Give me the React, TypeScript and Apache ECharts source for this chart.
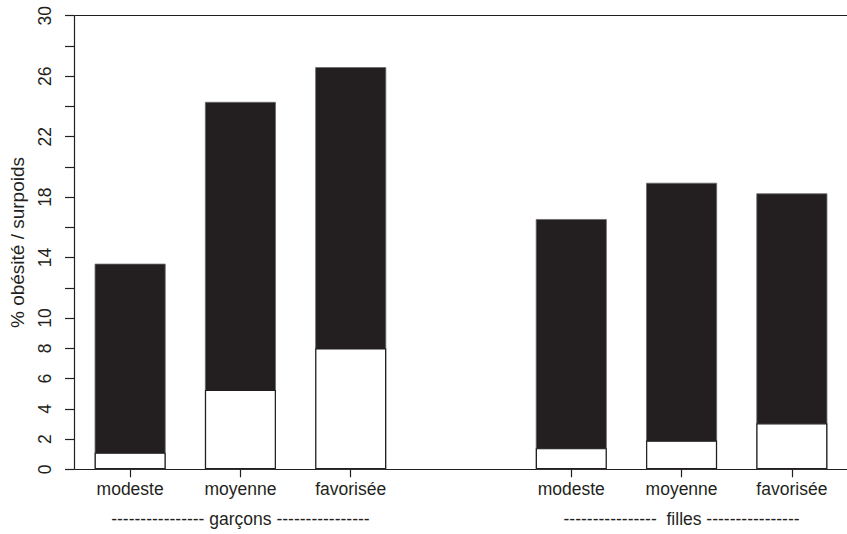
import React, { useEffect, useRef } from "react";
import * as echarts from "echarts";

const categories = ["modeste", "moyenne", "favorisée", "", "modeste", "moyenne", "favorisée"];
const groupLabels = ["", "---------------- garçons ----------------", "", "", "", "----------------  filles ----------------", ""];
// surpoids (obésité incluse) — total bar height
const surpoids = [13.6, 24.3, 26.6, null, 16.55, 18.95, 18.25];
// obésité — white lower part
const obesite = [1.1, 5.25, 8.0, null, 1.4, 1.9, 3.05];
const yTickLabels = [0, 2, 4, 6, 8, 10, 14, 18, 22, 26, 30];

const INK = "#231f20";
const FONT = "'Liberation Sans', Arial, Helvetica, sans-serif";

export default function App() {
  const ref = useRef<HTMLDivElement>(null);
  useEffect(() => {
    if (!ref.current) return;
    const chart = echarts.init(ref.current, undefined, { renderer: "svg" });
    chart.setOption({
      animation: false,
      backgroundColor: "#ffffff",
      textStyle: { fontFamily: FONT, color: INK },
      grid: { left: 75, top: 15.7, width: 774.2, height: 453.6, containLabel: false },
      xAxis: [
        {
          type: "category",
          data: categories,
          position: "bottom",
          axisLine: { show: true, lineStyle: { color: INK, width: 1.2 } },
          axisTick: {
            show: true,
            alignWithLabel: true,
            length: 8,
            interval: (i: number) => categories[i] !== "",
            lineStyle: { color: INK, width: 1.2 },
          },
          axisLabel: { interval: 0, margin: 11, fontSize: 17.5, color: INK, fontFamily: FONT },
          splitLine: { show: false },
        },
        {
          type: "category",
          data: groupLabels,
          position: "bottom",
          offset: 30,
          axisLine: { show: false },
          axisTick: { show: false },
          axisLabel: { interval: 0, margin: 11, fontSize: 17.5, color: INK, fontFamily: FONT },
          splitLine: { show: false },
        },
        {
          type: "category",
          data: categories,
          position: "top",
          axisLine: { show: true, lineStyle: { color: INK, width: 1.2 } },
          axisTick: { show: false },
          axisLabel: { show: false },
          splitLine: { show: false },
        },
      ],
      yAxis: {
        type: "value",
        min: 0,
        max: 30,
        interval: 2,
        offset: 1,
        name: "% obésité / surpoids",
        nameLocation: "middle",
        nameGap: 47,
        nameTextStyle: { fontSize: 19, color: INK, fontFamily: FONT },
        axisLine: { show: true, lineStyle: { color: INK, width: 1.2 } },
        axisTick: { show: true, length: 9, lineStyle: { color: INK, width: 1.2 } },
        axisLabel: {
          rotate: 90,
          margin: 20,
          fontSize: 17.5,
          color: INK,
          fontFamily: FONT,
          showMinLabel: true,
          showMaxLabel: true,
          formatter: (v: number) => (yTickLabels.includes(v) ? String(v) : ""),
        },
        splitLine: { show: false },
      },
      series: [
        {
          name: "surpoids",
          type: "bar",
          data: surpoids,
          barWidth: 71,
          barGap: "-100%",
          itemStyle: { color: INK, borderColor: "#6b6b6b", borderWidth: 0.8 },
        },
        {
          name: "obésité",
          type: "bar",
          data: obesite,
          barWidth: 71,
          barGap: "-100%",
          itemStyle: { color: "#ffffff", borderColor: INK, borderWidth: 1.2 },
        },
      ],
    });
    return () => chart.dispose();
  }, []);
  return (
    <div
      ref={ref}
      style={{ position: "absolute", left: 0, top: 0, width: 847, height: 534 }}
    />
  );
}
